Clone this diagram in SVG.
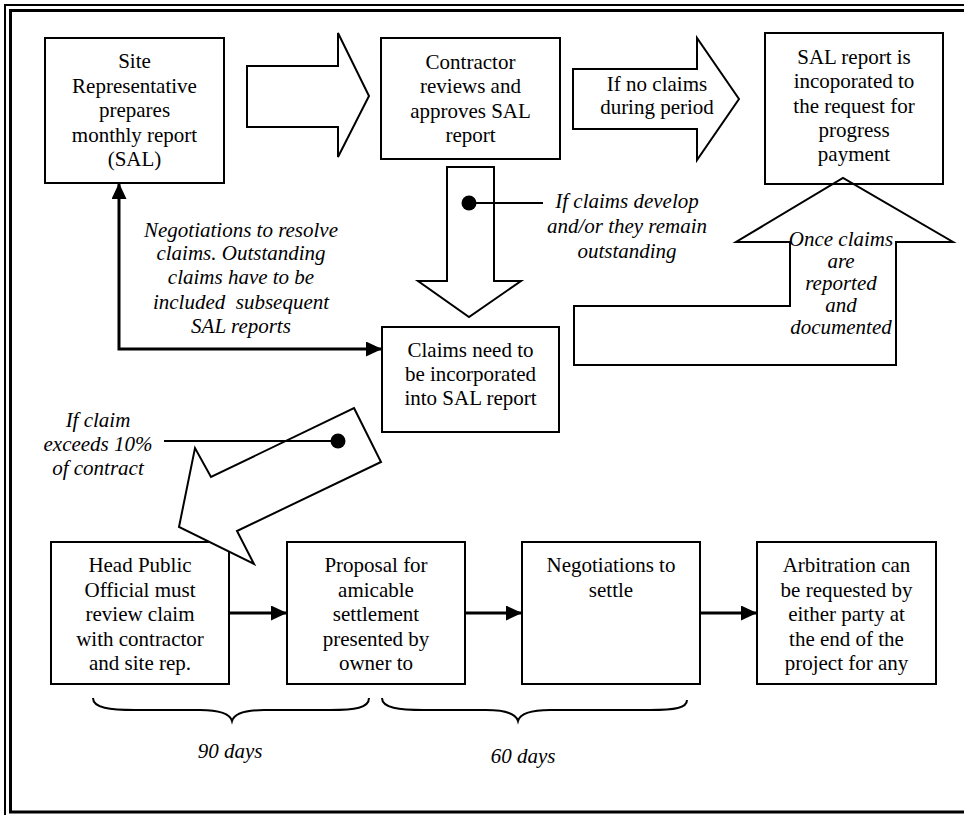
<svg xmlns="http://www.w3.org/2000/svg" width="964" height="815" viewBox="0 0 964 815">
  <style>
    text { font-family: "Liberation Serif", "Times New Roman", serif; font-size: 21px; fill: #000; text-anchor: middle; }
    .it { font-style: italic; }
    .box { fill: none; stroke: #000; stroke-width: 2; }
    .blk { fill: #fff; stroke: #000; stroke-width: 2; stroke-linejoin: miter; }
    .conn { fill: none; stroke: #000; stroke-width: 3; }
    .lead { fill: none; stroke: #000; stroke-width: 2; }
    .frame { fill: none; stroke: #000; }
  </style>
  <defs>
    <marker id="ah" markerUnits="userSpaceOnUse" markerWidth="16" markerHeight="15" refX="16" refY="7.5" orient="auto-start-reverse">
      <path d="M0,0 L16,7.5 L0,15 z" fill="#000"/>
    </marker>
  </defs>

  <rect x="0" y="0" width="964" height="815" fill="#fff"/>

  <!-- page border: thin outer rule, heavy inner rule -->
  <g id="frame">
    <path class="frame" stroke-width="2" d="M964,5 H5 V815"/>
    <path class="frame" stroke-width="3" d="M964,10.5 H10.5 V812 H964"/>
  </g>

  <!-- block arrows (drawn under the boxes) -->
  <g id="blockArrows">
    <polygon class="blk" points="247,66 338,66 338,33 369,96 338,157 338,127 247,127"/>
    <g id="noClaimsArrow">
      <polygon class="blk" points="573,69 697,69 697,38 739,99 697,160 697,129 573,129"/>
      <text x="657" y="91">If no claims</text>
      <text x="657" y="114">during period</text>
    </g>
    <g id="claimsDevelopArrow">
      <polygon class="blk" points="447,167 494,167 494,281 521,281 469,317 418,281 447,281"/>
    </g>
    <g id="reportedArrow">
      <polygon class="blk" points="574,306 790,306 790,242 736,242 843,178 953,242 896,242 896,365 574,365"/>
      <text class="it" x="841" y="246">Once claims</text>
      <text class="it" x="841" y="268">are</text>
      <text class="it" x="841" y="290">reported</text>
      <text class="it" x="841" y="312">and</text>
      <text class="it" x="841" y="334">documented</text>
    </g>
  </g>

  <!-- process boxes -->
  <g id="siteRep">
    <rect class="box" x="45" y="38" width="179" height="145"/>
    <text x="134.5" y="68">Site</text>
    <text x="134.5" y="93">Representative</text>
    <text x="134.5" y="117">prepares</text>
    <text x="134.5" y="142">monthly report</text>
    <text x="134.5" y="166">(SAL)</text>
  </g>
  <g id="contractorReview">
    <rect class="box" x="381" y="38" width="179" height="121"/>
    <text x="470.5" y="69">Contractor</text>
    <text x="470.5" y="93">reviews and</text>
    <text x="470.5" y="118">approves SAL</text>
    <text x="470.5" y="142">report</text>
  </g>
  <g id="progressPayment">
    <rect class="box" x="765" y="33" width="178" height="151"/>
    <text x="854" y="64">SAL report is</text>
    <text x="854" y="88">incoporated to</text>
    <text x="854" y="113">the request for</text>
    <text x="854" y="137">progress</text>
    <text x="854" y="161">payment</text>
  </g>
  <g id="claimsIncorporated">
    <rect class="box" x="382" y="327" width="177" height="105"/>
    <text x="470.5" y="357">Claims need to</text>
    <text x="470.5" y="381">be incorporated</text>
    <text x="470.5" y="405">into SAL report</text>
  </g>
  <g id="headReview">
    <rect class="box" x="51" y="542" width="178" height="142"/>
    <text x="140" y="572">Head Public</text>
    <text x="140" y="597">Official must</text>
    <text x="140" y="621">review claim</text>
    <text x="140" y="646">with contractor</text>
    <text x="140" y="670">and site rep.</text>
  </g>
  <g id="proposal">
    <rect class="box" x="287" y="542" width="178" height="142"/>
    <text x="376" y="572">Proposal for</text>
    <text x="376" y="597">amicable</text>
    <text x="376" y="621">settlement</text>
    <text x="376" y="646">presented by</text>
    <text x="376" y="670">owner to</text>
  </g>
  <g id="negotiate">
    <rect class="box" x="522" y="542" width="178" height="142"/>
    <text x="611" y="572">Negotiations to</text>
    <text x="611" y="597">settle</text>
  </g>
  <g id="arbitration">
    <rect class="box" x="757" y="542" width="179" height="142"/>
    <text x="846.5" y="572">Arbitration can</text>
    <text x="846.5" y="597">be requested by</text>
    <text x="846.5" y="621">either party at</text>
    <text x="846.5" y="646">the end of the</text>
    <text x="846.5" y="670">project for any</text>
  </g>

  <!-- diagonal escalation arrow, drawn over the first bottom box -->
  <g id="escalationArrow">
    <polygon class="blk" points="354,408 381,462 237,531 254,564 179,527 195,448 211,477"/>
  </g>

  <!-- connectors and callouts -->
  <g id="connectors">
    <path class="conn" d="M119,183 V349 H382" marker-start="url(#ah)" marker-end="url(#ah)"/>
    <path class="conn" d="M229,613 H287" marker-end="url(#ah)"/>
    <path class="conn" d="M465,613 H522" marker-end="url(#ah)"/>
    <path class="conn" d="M700,613 H757" marker-end="url(#ah)"/>

    <line class="lead" x1="469" y1="203" x2="543" y2="203"/>
    <circle cx="469" cy="203" r="7.5" fill="#000"/>
    <line class="lead" x1="338" y1="441" x2="164" y2="441"/>
    <circle cx="338" cy="441" r="7.5" fill="#000"/>

    <path class="lead" d="M93,698 C93,708 110,710 135,710 L200,710 C220,710 230,714 232,721 C234,714 244,710 264,710 L330,710 C355,710 369,708 369,698"/>
    <path class="lead" d="M382,698 C382,708 399,710 424,710 L486,710 C506,710 516,714 518,721 C520,714 530,710 550,710 L650,710 C675,710 687,708 687,700"/>
  </g>

  <!-- italic annotations -->
  <g id="labels">
    <text class="it" x="627" y="208">If claims develop</text>
    <text class="it" x="627" y="233">and/or they remain</text>
    <text class="it" x="627" y="258">outstanding</text>

    <text class="it" x="241" y="237">Negotiations to resolve</text>
    <text class="it" x="241" y="260">claims. Outstanding</text>
    <text class="it" x="241" y="284">claims have to be</text>
    <text class="it" x="241" y="309">included&#160; subsequent</text>
    <text class="it" x="241" y="333">SAL reports</text>

    <text class="it" x="98" y="427">If claim</text>
    <text class="it" x="98" y="451">exceeds 10%</text>
    <text class="it" x="98" y="475">of contract</text>

    <text class="it" x="230" y="758">90 days</text>
    <text class="it" x="523" y="763">60 days</text>
  </g>
</svg>
